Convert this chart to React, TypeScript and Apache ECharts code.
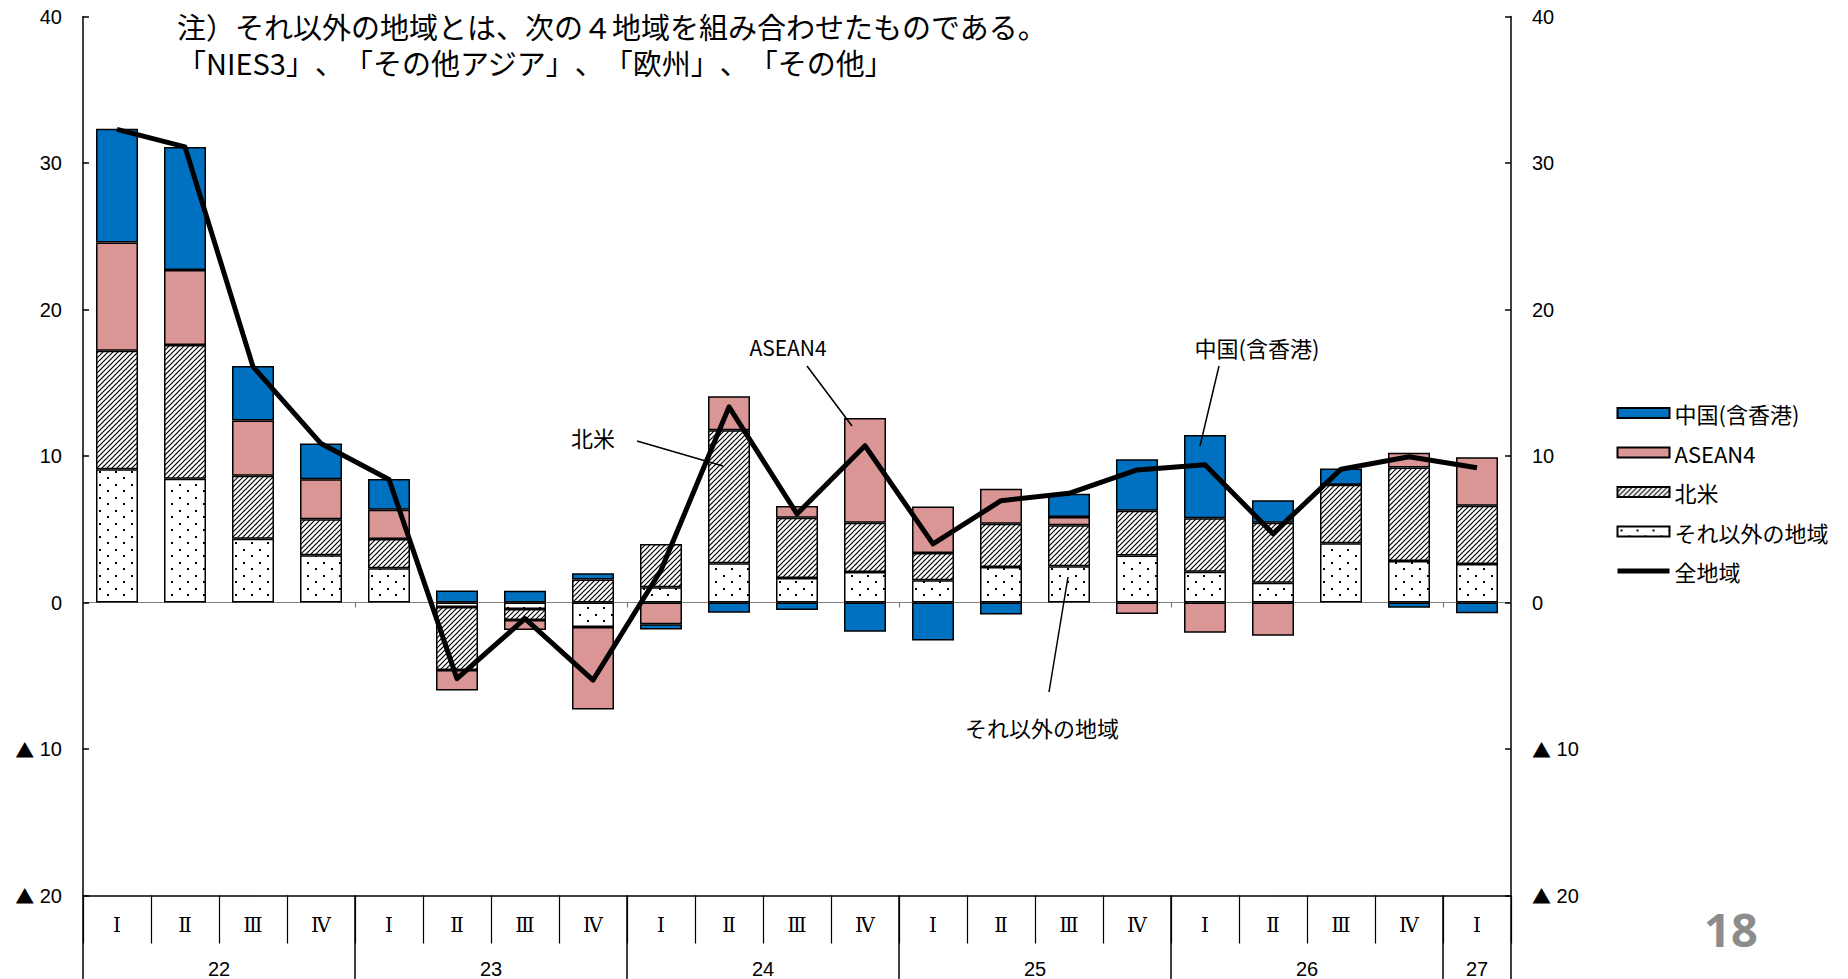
import { useEffect, useRef } from 'react';
import * as echarts from 'echarts';

// Quarter labels along the bottom and the fiscal years that group them
const quarters = ['Ⅰ', 'Ⅱ', 'Ⅲ', 'Ⅳ', 'Ⅰ', 'Ⅱ', 'Ⅲ', 'Ⅳ', 'Ⅰ', 'Ⅱ', 'Ⅲ', 'Ⅳ', 'Ⅰ', 'Ⅱ', 'Ⅲ', 'Ⅳ', 'Ⅰ', 'Ⅱ', 'Ⅲ', 'Ⅳ', 'Ⅰ'];
const years = ['22', '23', '24', '25', '26', '27'];
const quartersPerYear = [4, 4, 4, 4, 4, 1];

// Contributions by region (percentage points)
const otherRegions = [9.1, 8.44, 4.36, 3.22, 2.33, -0.3, -0.45, -1.67, 1.04, 2.68, 1.68, 2.09, 1.52, 2.43, 2.48, 3.2, 2.1, 1.35, 4.04, 2.83, 2.63];
const northAmerica = [8.08, 9.13, 4.3, 2.46, 2.0, -4.3, -0.75, 1.57, 2.96, 9.07, 4.11, 3.35, 1.86, 2.95, 2.8, 3.07, 3.65, 4.1, 3.99, 6.38, 3.98];
const asean4 = [7.4, 5.12, 3.76, 2.74, 2.0, -1.4, -0.68, -5.64, -1.48, 2.32, 0.79, 7.16, 3.18, 2.39, 0.56, -0.79, -2.06, -2.27, 0, 1.02, 3.3];
const chinaHK = [7.76, 8.4, 3.73, 2.43, 2.1, 0.82, 0.8, 0.43, -0.36, -0.7, -0.52, -2.0, -2.6, -0.82, 1.59, 3.51, 5.69, 1.53, 1.11, -0.35, -0.74];
const allRegions = [32.3, 31.1, 16.1, 10.85, 8.4, -5.2, -1.1, -5.3, 2.2, 13.35, 6.05, 10.7, 4.0, 6.95, 7.45, 9.05, 9.4, 4.7, 9.1, 9.95, 9.2];

const noteLines = [
  '注）それ以外の地域とは、次の４地域を組み合わせたものである。',
  '「NIES3」、「その他アジア」、「欧州」、「その他」',
];

const yMin = -20;
const yMax = 40;
const yStep = 10;

const jpFont = '"Noto Sans CJK JP", "Noto Sans", sans-serif';
const numFont = '"Liberation Sans", Arial, sans-serif';

// Half-quarter slots: boundaries sit on even slots, year labels at the group centre
const slotCount = quarters.length * 2 + 1;
const yearSlots: string[] = new Array(slotCount).fill('');
const yearBoundaries: number[] = [0];
{
  let q = 0;
  years.forEach((y, i) => {
    const n = quartersPerYear[i];
    yearSlots[q * 2 + n] = y;
    q += n;
    yearBoundaries.push(q * 2);
  });
}
const innerBoundaries = yearBoundaries.filter((b) => b > 0 && b < slotCount - 1);

function hatchFill() {
  const s = 5;
  const c = document.createElement('canvas');
  c.width = s;
  c.height = s;
  const g = c.getContext('2d')!;
  g.fillStyle = '#ffffff';
  g.fillRect(0, 0, s, s);
  g.strokeStyle = '#000000';
  g.lineWidth = 1.2;
  g.beginPath();
  g.moveTo(-1, s + 1);
  g.lineTo(s + 1, -1);
  g.moveTo(-1, 1);
  g.lineTo(1, -1);
  g.moveTo(s - 1, s + 1);
  g.lineTo(s + 1, s - 1);
  g.stroke();
  return { image: c, repeat: 'repeat' };
}

function dotFill() {
  const w = 16;
  const h = 13;
  const c = document.createElement('canvas');
  c.width = w;
  c.height = h;
  const g = c.getContext('2d')!;
  g.fillStyle = '#ffffff';
  g.fillRect(0, 0, w, h);
  g.fillStyle = '#000000';
  g.fillRect(3, 3, 2, 2);
  g.fillRect(11, 9, 2, 2);
  return { image: c, repeat: 'repeat' };
}

export default function App() {
  const ref = useRef<HTMLDivElement>(null);

  useEffect(() => {
    if (!ref.current) return;
    const chart = echarts.init(ref.current, undefined, { renderer: 'svg' });

    const barBorder = { borderColor: '#000000', borderWidth: 1.5 };
    const yAxisBase = (position: 'left' | 'right') => ({
      type: 'value',
      position,
      min: yMin,
      max: yMax,
      interval: yStep,
      axisLine: { show: true, onZero: false, lineStyle: { color: '#000', width: 1.5 } },
      axisTick: { show: true, inside: true, length: 6, lineStyle: { color: '#000', width: 1.5 } },
      splitLine: { show: false },
      axisLabel: {
        formatter: (v: number) => (v < 0 ? '{tri|▲} ' + Math.abs(v) : String(v)),
        fontFamily: numFont,
        fontSize: 20,
        color: '#000',
        margin: 21,
        rich: {
          tri: { fontFamily: jpFont, fontSize: 19, color: '#000' },
        },
      },
    });

    const option: any = {
      animation: false,
      backgroundColor: '#ffffff',
      grid: { left: 83, right: 337, top: 16.5, bottom: 83.5, containLabel: false, outerBoundsMode: 'none' },
      legend: {
        orient: 'vertical',
        left: 1615,
        top: 402,
        padding: 0,
        itemWidth: 52,
        itemHeight: 10,
        itemGap: 17.5,
        textStyle: { fontFamily: jpFont, fontSize: 22, lineHeight: 22, color: '#000' },
        data: [
          { name: '中国(含香港)', icon: 'rect' },
          { name: 'ASEAN4', icon: 'rect' },
          { name: '北米', icon: 'rect' },
          { name: 'それ以外の地域', icon: 'rect' },
          { name: '全地域', lineStyle: { width: 5 }, itemStyle: { opacity: 0 } },
        ],
      },
      xAxis: [
        {
          type: 'category',
          data: quarters,
          position: 'bottom',
          boundaryGap: true,
          axisLine: { show: true, onZero: false, lineStyle: { color: '#000', width: 1.5 } },
          axisTick: { show: true, interval: 0, length: 48, lineStyle: { color: '#000', width: 1.2 } },
          axisLabel: {
            interval: 0,
            fontFamily: '"DejaVu Serif", serif',
            fontSize: 20,
            color: '#000',
            margin: 29,
            verticalAlign: 'middle',
          },
        },
        {
          type: 'category',
          data: yearSlots,
          position: 'bottom',
          boundaryGap: false,
          axisLine: { show: false, onZero: false },
          axisTick: {
            show: true,
            interval: (i: number) => yearBoundaries.includes(i),
            length: 84,
            lineStyle: { color: '#000', width: 1.5 },
          },
          axisLabel: {
            interval: 0,
            fontFamily: numFont,
            fontSize: 20,
            color: '#000',
            margin: 73,
            verticalAlign: 'middle',
          },
        },
        {
          type: 'category',
          data: yearSlots,
          position: 'bottom',
          boundaryGap: false,
          axisLine: { show: true, onZero: true, lineStyle: { color: '#808080', width: 1.2 } },
          axisTick: {
            show: true,
            interval: (i: number) => innerBoundaries.includes(i),
            length: 5,
            lineStyle: { color: '#808080', width: 1.2 },
          },
          axisLabel: { show: false },
        },
      ],
      yAxis: [yAxisBase('left'), yAxisBase('right')],
      series: [
        {
          name: 'それ以外の地域',
          type: 'bar',
          stack: 'region',
          barWidth: 42,
          data: otherRegions,
          itemStyle: { color: dotFill(), ...barBorder },
        },
        {
          name: '北米',
          type: 'bar',
          stack: 'region',
          barWidth: 42,
          data: northAmerica,
          itemStyle: { color: hatchFill(), ...barBorder },
        },
        {
          name: 'ASEAN4',
          type: 'bar',
          stack: 'region',
          barWidth: 42,
          data: asean4,
          itemStyle: { color: '#D99694', ...barBorder },
        },
        {
          name: '中国(含香港)',
          type: 'bar',
          stack: 'region',
          barWidth: 42,
          data: chinaHK,
          itemStyle: { color: '#0070C0', ...barBorder },
        },
        {
          name: '全地域',
          type: 'line',
          data: allRegions,
          symbol: 'none',
          z: 5,
          lineStyle: { color: '#000', width: 5, join: 'round' },
          itemStyle: { color: '#000' },
        },
      ],
      graphic: [
        // Two-line note about the grouping of the remaining regions
        {
          type: 'text',
          x: 177,
          y: 43.5,
          style: {
            text: noteLines.join('\n'),
            fontFamily: jpFont,
            fontSize: 29,
            lineHeight: 36,
            fill: '#000',
            verticalAlign: 'middle',
          },
        },
        // Callouts naming each region
        {
          type: 'text',
          x: 788,
          y: 347,
          z: 10,
          style: { text: 'ASEAN4', fontFamily: jpFont, fontSize: 21, fill: '#000', align: 'center', verticalAlign: 'middle' },
        },
        { type: 'line', z: 10, shape: { x1: 807, y1: 366, x2: 852, y2: 426 }, style: { stroke: '#000', lineWidth: 1.5 } },
        {
          type: 'text',
          x: 1257,
          y: 347,
          z: 10,
          style: { text: '中国(含香港)', fontFamily: jpFont, fontSize: 22, fill: '#000', align: 'center', verticalAlign: 'middle' },
        },
        { type: 'line', z: 10, shape: { x1: 1219, y1: 366, x2: 1200, y2: 446 }, style: { stroke: '#000', lineWidth: 1.5 } },
        {
          type: 'text',
          x: 593,
          y: 437,
          z: 10,
          style: { text: '北米', fontFamily: jpFont, fontSize: 22, fill: '#000', align: 'center', verticalAlign: 'middle' },
        },
        { type: 'line', z: 10, shape: { x1: 637, y1: 441, x2: 723, y2: 466 }, style: { stroke: '#000', lineWidth: 1.5 } },
        {
          type: 'text',
          x: 1042,
          y: 727,
          z: 10,
          style: { text: 'それ以外の地域', fontFamily: jpFont, fontSize: 22, fill: '#000', align: 'center', verticalAlign: 'middle' },
        },
        { type: 'line', z: 10, shape: { x1: 1049, y1: 692, x2: 1068, y2: 577 }, style: { stroke: '#000', lineWidth: 1.5 } },
        {
          type: 'text',
          x: 1731,
          y: 929,
          style: {
            text: '18',
            fontFamily: '"Noto Sans", "Open Sans", sans-serif',
            fontWeight: 'bold',
            fontSize: 47,
            fill: '#8c8c8c',
            align: 'center',
            verticalAlign: 'middle',
          },
        },
      ],
    };

    chart.setOption(option);
    return () => chart.dispose();
  }, []);

  return (
    <div
      ref={ref}
      style={{
        position: 'fixed',
        left: 0,
        top: 0,
        width: 1848,
        height: 979,
        background: '#fff',
        textSpacingTrim: 'space-all',
      } as any}
    />
  );
}
